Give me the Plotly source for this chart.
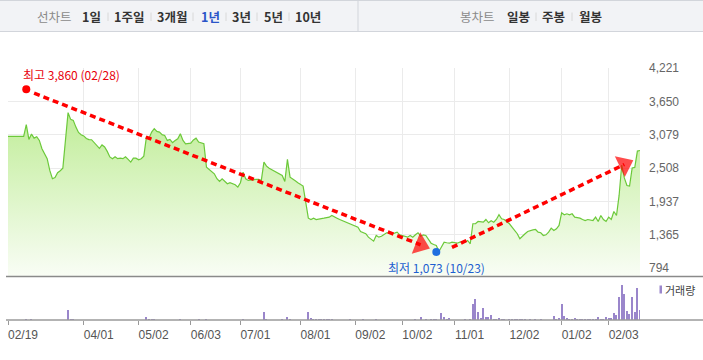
import plotly.graph_objects as go

# ---------------- data ----------------
# daily closing price, one value per trading day (index 0 = 02/19)
close = [
    3051, 3051, 3051, 3051, 3051, 3051, 3051, 3251, 2999, 3090,
    3021, 3045, 2982, 2840, 2755, 2669, 2468, 2326, 2348, 2429,
    2463, 2507, 2982, 3457, 3342, 3325, 3210, 3119, 3080, 3059,
    3016, 2996, 2994, 2943, 2905, 2845, 2905, 2871, 2794, 2700,
    2669, 2703, 2669, 2679, 2669, 2703, 2657, 2610, 2679, 2679,
    2651, 2669, 2713, 3039, 3021, 3124, 3183, 3136, 3124, 3080,
    3068, 2982, 2999, 2943, 2980, 3011, 3097, 2982, 2925, 2930,
    2936, 2990, 3021, 2953, 2940, 2925, 2525, 2485, 2440, 2411,
    2326, 2279, 2326, 2290, 2240, 2257, 2240, 2223, 2182, 2257,
    2439, 2326, 2297, 2305, 2314, 2314, 2314, 2297, 2610, 2542,
    2507, 2480, 2451, 2429, 2400, 2382, 2279, 2657, 2353, 2326,
    2290, 2257, 2223, 2200, 1925, 1651, 1628, 1651, 1628, 1640,
    1651, 1651, 1660, 1668, 1697, 1680, 1651, 1628, 1610, 1594,
    1575, 1555, 1530, 1514, 1497, 1423, 1400, 1384, 1325, 1290,
    1257, 1354, 1325, 1340, 1366, 1401, 1401, 1384, 1395, 1411,
    1366, 1354, 1340, 1325, 1354, 1325, 1366, 1401, 1342, 1366,
    1354, 1286, 1222, 1200, 1183, 1080, 1154, 1240, 1230, 1222,
    1240, 1230, 1222, 1240, 1240, 1240, 1269, 1212, 1555, 1555,
    1594, 1590, 1582, 1628, 1572, 1606, 1582, 1628, 1709, 1640,
    1628, 1590, 1555, 1497, 1440, 1384, 1298, 1350, 1384, 1423,
    1440, 1450, 1457, 1411, 1401, 1354, 1366, 1411, 1480, 1440,
    1469, 1526, 1743, 1709, 1726, 1709, 1726, 1668, 1660, 1651,
    1628, 1611, 1628, 1620, 1611, 1668, 1594, 1697, 1628, 1594,
    1668, 1628, 1765, 1697, 2040, 2560, 2340, 2210, 2200, 2510,
    2520, 2800, 2810,
]
days = list(range(len(close)))

# volume (trading-day index, shares)
vol_day = [7, 9, 23, 24, 25, 53, 54, 55, 56, 66,
           73, 76, 90, 98, 99, 105, 107, 108, 115, 116,
           117, 118, 119, 120, 121, 122, 123, 124, 131, 136,
           141, 156, 158, 160, 162, 163, 164, 166, 167, 168,
           169, 175, 177, 178, 179, 180, 181, 182, 183, 184,
           185, 186, 187, 188, 189, 190, 192, 193, 194, 195,
           196, 197, 198, 200, 202, 204, 209, 210, 211, 212,
           213, 214, 215, 216, 217, 218, 219, 220, 221, 222,
           223, 224, 225, 226, 227, 228, 229, 230, 231, 232,
           233, 234, 235, 236, 237, 238, 239, 240, 241, 242]
vol_amt = [170, 70, 1100, 200, 100, 330, 100, 170, 100, 100,
           70, 70, 170, 830, 100, 100, 330, 200, 830, 270,
           170, 130, 100, 130, 100, 130, 170, 100, 100, 70,
           70, 100, 400, 100, 170, 100, 100, 770, 400, 170,
           230, 100, 100, 1670, 2170, 900, 270, 1270, 330, 400,
           600, 200, 200, 300, 200, 130, 100, 100, 100, 100,
           100, 100, 100, 100, 70, 70, 500, 200, 270, 1670,
           500, 300, 200, 170, 230, 130, 130, 130, 130, 130,
           130, 130, 170, 400, 170, 170, 330, 230, 270, 800,
           570, 2330, 3600, 2670, 930, 670, 2330, 830, 3330, 1100]

# axis ticks
tick_pos = [0, 29, 50, 70, 89, 112, 133, 151, 171, 192, 212, 230]
tick_labels = ["02/19", "04/01", "05/02", "06/03", "07/01", "08/01",
               "09/02", "10/02", "11/01", "12/02", "01/02", "02/03"]
y_ticks = [794, 1365.17, 1936.33, 2507.5, 3078.67, 3649.83, 4221]
y_labels = ["794", "1,365", "1,937", "2,508", "3,079", "3,650", "4,221"]

# high / low markers
high_day, high_val, high_text = 7, 3860, "최고 3,860 (02/28)"
low_day, low_val, low_text = 164, 1073, "최저 1,073 (10/23)"

# trend arrows (drawn on the chart)
trend1_x, trend1_y = [10, 158], [3790, 1195]
trend2_x, trend2_y = [170, 236], [1150, 2570]

# tab bar texts
tabs_left = ["1일", "1주일", "3개월", "1년", "3년", "5년", "10년"]
tabs_right = ["일봉", "주봉", "월봉"]

# ---------------- figure ----------------
W, H = 703, 360
ML, MR, MT, MB = 8, 63, 68, 40
PW, PH = W - ML - MR, H - MT - MB


def px_x(p):
    return (p - ML) / PW


def px_y(p):
    return (H - MB - p) / PH


FONT = "Liberation Sans, Noto Sans CJK KR, sans-serif"
KFONT = "Noto Sans CJK KR, Liberation Sans, sans-serif"

fig = go.Figure()

fig.add_trace(go.Scatter(
    x=days, y=close, mode="lines",
    line=dict(color="#6cc93a", width=1.2),
    fill="tozeroy",
    fillgradient=dict(type="vertical", start=652, stop=3460,
                      colorscale=[[0, "#f9fdf5"], [1, "#c0ed98"]]),
    hoverinfo="skip", showlegend=False,
))

fig.add_trace(go.Bar(
    x=vol_day, y=vol_amt, xaxis="x2", yaxis="y2",
    marker=dict(color="#9a86cb", line=dict(width=0)),
    width=0.45, showlegend=False, hoverinfo="skip",
))

for tx, ty in ((trend1_x, trend1_y), (trend2_x, trend2_y)):
    fig.add_trace(go.Scatter(
        x=tx, y=ty, mode="lines+markers",
        line=dict(color="#ff0000", width=3.5, dash="6px,4px"),
        marker=dict(symbol="triangle-up", size=[0, 20], color="#ff0000",
                    angleref="previous", line=dict(width=0)),
        showlegend=False, hoverinfo="skip",
    ))

fig.add_trace(go.Scatter(x=[high_day], y=[high_val], mode="markers",
                         marker=dict(color="#ff0000", size=8),
                         showlegend=False, hoverinfo="skip"))
fig.add_trace(go.Scatter(x=[low_day], y=[low_val], mode="markers",
                         marker=dict(color="#1f6fe0", size=8),
                         showlegend=False, hoverinfo="skip"))

annotations = [
    dict(x=high_day, y=high_val, xref="x", yref="y", text=high_text,
         showarrow=False, xanchor="left", yanchor="bottom", xshift=-5, yshift=4,
         font=dict(family=KFONT, size=12, color="#e8000b")),
    dict(x=low_day, y=low_val, xref="x", yref="y", text=low_text,
         showarrow=False, xanchor="center", yanchor="top", yshift=-5,
         font=dict(family=KFONT, size=12, color="#1d5fd0")),
    dict(x=px_x(663), y=px_y(290), xref="paper", yref="paper", text="거래량",
         showarrow=False, xanchor="left", yanchor="middle",
         font=dict(family=KFONT, size=11, color="#444")),
]

shapes = [
    # tab bar
    dict(type="rect", xref="paper", yref="paper",
         x0=px_x(-1), x1=px_x(704), y0=px_y(0.5), y1=px_y(31.5),
         fillcolor="#f2f3f6", line=dict(color="#d2d5db", width=1), layer="below"),
    dict(type="line", xref="paper", yref="paper",
         x0=px_x(358), x1=px_x(358), y0=px_y(0.5), y1=px_y(31.5),
         line=dict(color="#d2d5db", width=1)),
    # price-panel bottom border and volume baseline
    dict(type="line", xref="paper", yref="paper",
         x0=px_x(6), x1=px_x(703), y0=px_y(276.5), y1=px_y(276.5),
         line=dict(color="#8a8a8a", width=1.3)),
    dict(type="line", xref="paper", yref="paper",
         x0=px_x(6), x1=px_x(703), y0=px_y(320), y1=px_y(320),
         line=dict(color="#9a9a9a", width=1.3)),
    # volume legend swatch
    dict(type="rect", xref="paper", yref="paper",
         x0=px_x(659.5), x1=px_x(662), y0=px_y(293.5), y1=px_y(285.5),
         fillcolor="#9a86cb", line=dict(width=0)),
]

# tab texts
left_x = [91, 129, 172, 210, 241, 273, 308]
right_x = [518, 553, 590]
ty = px_y(16)
annotations.append(dict(x=px_x(55), y=ty, xref="paper", yref="paper", text="선차트",
                        showarrow=False, xanchor="center", yanchor="middle",
                        font=dict(family=KFONT, size=12.5, color="#8a8a8a")))
annotations.append(dict(x=px_x(477), y=ty, xref="paper", yref="paper", text="봉차트",
                        showarrow=False, xanchor="center", yanchor="middle",
                        font=dict(family=KFONT, size=12.5, color="#8a8a8a")))
for lbl, xp in zip(tabs_left, left_x):
    col = "#2a55c8" if lbl == "1년" else "#333333"
    annotations.append(dict(x=px_x(xp), y=ty, xref="paper", yref="paper",
                            text="<b>" + lbl + "</b>", showarrow=False,
                            xanchor="center", yanchor="middle",
                            font=dict(family=KFONT, size=12.5, color=col)))
for lbl, xp in zip(tabs_right, right_x):
    annotations.append(dict(x=px_x(xp), y=ty, xref="paper", yref="paper",
                            text="<b>" + lbl + "</b>", showarrow=False,
                            xanchor="center", yanchor="middle",
                            font=dict(family=KFONT, size=12.5, color="#333333")))
for sx in [108, 151, 193, 226, 257, 289, 536, 572]:
    shapes.append(dict(type="line", xref="paper", yref="paper",
                       x0=px_x(sx), x1=px_x(sx), y0=px_y(12.5), y1=px_y(21),
                       line=dict(color="#d8d8d8", width=1)))

x_range = [0, len(close) - 1]

fig.update_layout(
    width=W, height=H,
    margin=dict(l=ML, r=MR, t=MT, b=MB, autoexpand=False),
    paper_bgcolor="white", plot_bgcolor="white",
    font=dict(family=FONT, size=11, color="#555"),
    showlegend=False, bargap=0,
    xaxis=dict(domain=[0, 1], range=x_range, anchor="y", automargin=False,
               tickvals=tick_pos, showticklabels=False,
               showgrid=True, gridcolor="#ebebeb", gridwidth=1,
               zeroline=False, showline=False, ticks=""),
    yaxis=dict(domain=[px_y(276.5), 1], range=[652, 4222], side="right",
               automargin=False,
               tickvals=y_ticks, ticktext=y_labels,
               showgrid=True, gridcolor="#ebebeb", gridwidth=1,
               zeroline=False, showline=False, ticks="",
               ticklabelstandoff=8,
               tickfont=dict(family=FONT, size=12, color="#666")),
    xaxis2=dict(domain=[0, 1], range=x_range, anchor="y2", automargin=False,
                tickvals=tick_pos, ticktext=tick_labels,
                ticks="outside", ticklen=4, tickcolor="#999", tickwidth=1,
                showgrid=False, zeroline=False, showline=False,
                ticklabelshift=15,
                tickfont=dict(family=FONT, size=12, color="#555")),
    yaxis2=dict(domain=[0, px_y(277.5)], range=[0, 4300], visible=False,
                automargin=False, fixedrange=True),
    shapes=shapes,
    annotations=annotations,
)

fig.write_html("out.html", config={"displayModeBar": False})

# remove the browser's default page margin so the figure sits at (0, 0)
with open("out.html", "r", encoding="utf-8") as f:
    html = f.read()
html = html.replace("<head>", "<head><style>html,body{margin:0;padding:0;}</style>", 1)
with open("out.html", "w", encoding="utf-8") as f:
    f.write(html)
